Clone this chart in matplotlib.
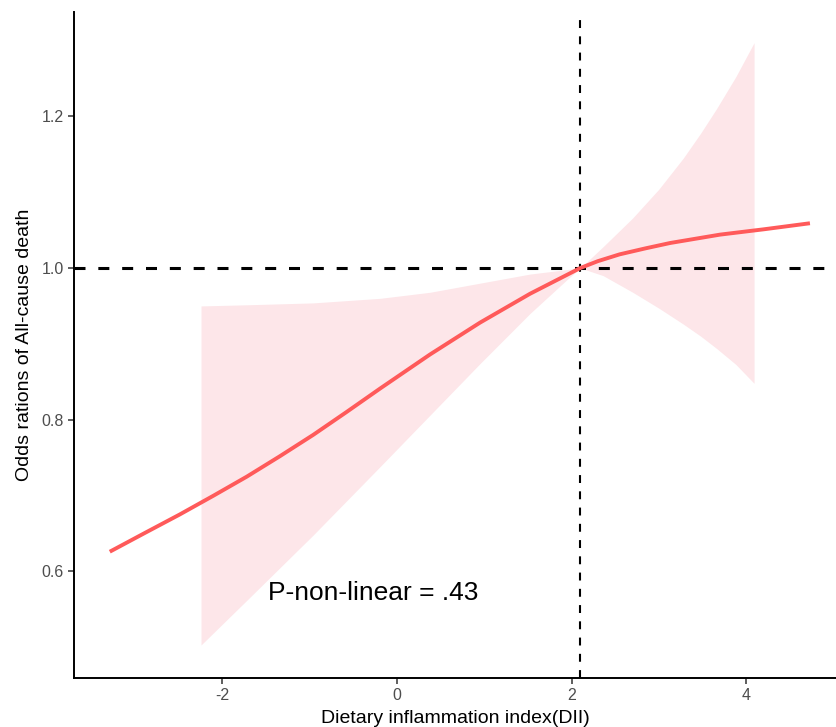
import matplotlib.pyplot as plt

plt.rcParams['font.family'] = ['Liberation Sans', 'DejaVu Sans']

# ---- data ----
curve_x = [-3.29, -2.90, -2.49, -2.10, -1.72, -1.34, -0.96, -0.58, -0.195,
           0.378, 0.951, 1.523, 2.10, 2.30, 2.55, 2.85, 3.13, 3.70, 4.20, 4.73]
curve_y = [0.626, 0.650, 0.675, 0.700, 0.725, 0.752, 0.780, 0.810, 0.841,
           0.886, 0.928, 0.966, 1.000, 1.009, 1.018, 1.026, 1.033, 1.044, 1.051, 1.059]

band_x = [-2.245, -1.72, -0.96, -0.195, 0.378, 0.951, 1.523, 1.95, 2.10,
          2.36, 2.70, 3.00, 3.28, 3.48, 3.66, 3.88, 4.09]
band_upper = [0.950, 0.9515, 0.954, 0.960, 0.968, 0.980, 0.992, 0.998, 1.000,
              1.028, 1.066, 1.104, 1.145, 1.178, 1.210, 1.252, 1.297]
band_lower = [0.503, 0.562, 0.648, 0.738, 0.806, 0.874, 0.940, 0.985, 1.000,
              0.990, 0.968, 0.947, 0.926, 0.910, 0.894, 0.873, 0.848]

ref_x = 2.096
ref_y = 1.0
p_text = "P-non-linear = .43"

xticks = [-2, 0, 2, 4]
yticks = [0.6, 0.8, 1.0, 1.2]

# ---- plot ----
fig = plt.figure(figsize=(8.37, 7.27), dpi=100)
ax = fig.add_axes([0.0884, 0.0674, 0.9116, 0.9161])

ax.fill_between(band_x, band_lower, band_upper, color='#fde6e9', lw=0, zorder=1)
ax.axhline(ref_y, color='black', lw=2.2, dashes=(3.6, 4.2), zorder=2)
ax.axvline(ref_x, color='black', lw=1.5, dashes=(3.8, 4.0), zorder=2)
ax.plot(curve_x, curve_y, color='#ff5a5a', lw=2.8, solid_capstyle='butt', zorder=3)

ax.text(-1.48, 0.572, p_text, fontsize=19, va='center', ha='left', color='black')

ax.set_xlim(-3.70, 5.04)
ax.set_ylim(0.4595, 1.3375)
ax.set_xticks(xticks)
ax.set_xticklabels([str(t) for t in xticks])
ax.set_yticks(yticks)
ax.set_yticklabels([f"{t:.1f}" for t in yticks])

for s in ['top', 'right']:
    ax.spines[s].set_visible(False)
for s in ['left', 'bottom']:
    ax.spines[s].set_linewidth(1.4)

ax.tick_params(axis='both', length=4, width=1.1, color='#333333',
               labelcolor='#4d4d4d', labelsize=11.5, pad=3.5)

ax.set_xlabel("Dietary inflammation index(DII)", fontsize=14, labelpad=5)
ax.set_ylabel("Odds rations of All-cause death", fontsize=14, labelpad=6)

fig.savefig("out.png", dpi=100)
